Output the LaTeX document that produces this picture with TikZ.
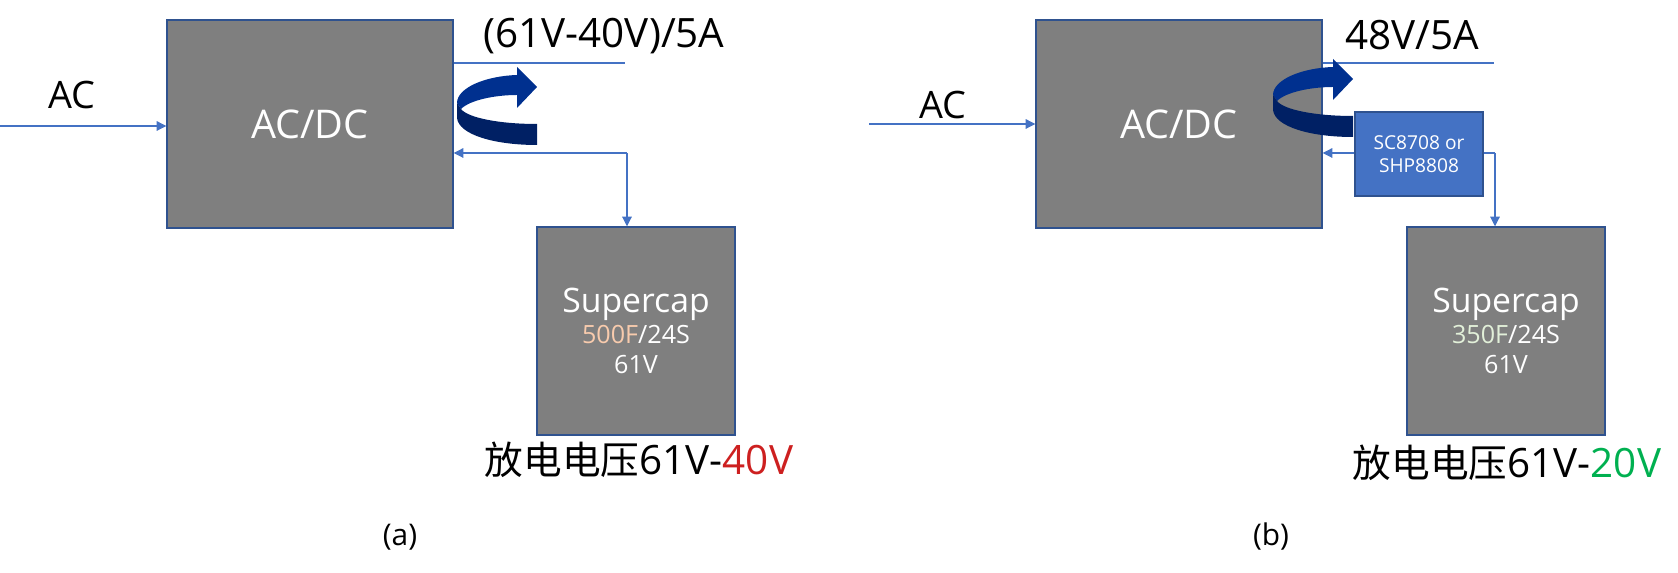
\documentclass[tikz,border=0pt]{standalone}
\usepackage{fontspec}
\setmainfont{Open Sans}
\newfontfamily\cjk{Noto Sans CJK SC}
\usetikzlibrary{arrows.meta}
\definecolor{boxgray}{RGB}{127,127,127}
\definecolor{edgeblue}{RGB}{47,82,143}
\definecolor{lineblue}{RGB}{68,114,196}
\definecolor{turnlight}{RGB}{0,48,143}
\definecolor{turndark}{RGB}{0,32,100}
\definecolor{peach}{RGB}{248,203,173}
\definecolor{palegreen}{RGB}{226,240,217}
\definecolor{volred}{RGB}{205,32,32}
\definecolor{volgreen}{RGB}{0,176,80}

% the turning arrow beside the converter
\newcommand\uturn{%
  \fill[turnlight] (517,75) .. controls (485,76) and (457,88) .. (457,103) -- (461,109)
    .. controls (470,100) and (495,95) .. (517,95) -- (517,108) -- (537,87) -- (517,67) -- cycle;
  \fill[turndark] (457,103) -- (457,118) .. controls (459,135) and (495,145) .. (537,145)
    -- (537,124) .. controls (500,124) and (468,118) .. (461,109) -- cycle;
}
\newcommand\cjksize{\fontsize{22}{26}\selectfont}

\begin{document}
\begin{tikzpicture}[x=0.02cm,y=-0.02cm,
  blk/.style={draw=edgeblue,line width=0.85pt,fill=boxgray,text=white,inner sep=0pt},
  conv/.style={blk,minimum width=5.72cm,minimum height=4.16cm,font=\fontsize{22.5}{26}\selectfont},
  capbox/.style={blk,minimum width=3.96cm,minimum height=4.16cm,align=center,font=\fontsize{14.3}{17}\selectfont},
  ctrlbox/.style={blk,fill=lineblue,minimum width=2.56cm,minimum height=1.68cm,align=center,font=\fontsize{10.9}{13}\selectfont},
  conn/.style={draw=lineblue,line width=0.6pt},
  sigarrow/.style={-{Triangle[length=5.5pt,width=5.5pt]}},
  lbl/.style={font=\fontsize{23}{27}\selectfont,inner sep=0pt},
  capt/.style={font=\fontsize{17}{20}\selectfont,inner sep=0pt}]
  \useasboundingbox (0,0) rectangle (1678,573);

  % (a)
  \node[conv] (acdca) at (310,124) {AC/DC};
  \node[capbox] (capa) at (636,331) {{\fontsize{19.2}{21}\selectfont Supercap}\\[1pt]\textcolor{peach}{500F}/24S\\61V};
  \coordinate (ina) at (0,126);
  \coordinate (outa) at (625,63);
  \coordinate (fba) at (627,153);
  \draw[conn,sigarrow] (ina) -- (ina -| acdca.west);
  \draw[conn] (outa -| acdca.east) -- (outa);
  \draw[conn,sigarrow] (fba) -- (fba -| acdca.east);
  \draw[conn,sigarrow] (fba) -- (fba |- capa.north);
  \uturn
  \node[lbl,font=\fontsize{21.5}{25}\selectfont] (aca) at (72,95) {AC};
  \node[lbl] (ratea) at (604,36) {(61V-40V)/5A};
  \node[lbl] (dischga) at (639,460) {{\cjk\cjksize 放电电压}61V-\textcolor{volred}{40V}};
  \node[capt] (capta) at (400,537) {(a)};

  % (b)
  \node[conv] (acdcb) at (1179,124) {AC/DC};
  \node[capbox] (capb) at (1506,331) {{\fontsize{19.2}{21}\selectfont Supercap}\\[1pt]\textcolor{palegreen}{350F}/24S\\61V};
  \node[ctrlbox] (ctrl) at (1419,154) {SC8708 or\\SHP8808};
  \coordinate (inb) at (869,124);
  \coordinate (outb) at (1494,63);
  \coordinate (fbb) at (1495,153);
  \draw[conn,sigarrow] (inb) -- (inb -| acdcb.west);
  \draw[conn] (outb -| acdcb.east) -- (outb);
  \draw[conn,sigarrow] (ctrl.west |- fbb) -- (fbb -| acdcb.east);
  \draw[conn] (ctrl.east |- fbb) -- (fbb);
  \draw[conn,sigarrow] (fbb) -- (fbb |- capb.north);
  \begin{scope}[shift={(816,-8)}]
    \uturn
  \end{scope}
  \node[lbl,font=\fontsize{21.5}{25}\selectfont] (acb) at (943,105) {AC};
  \node[lbl] (rateb) at (1412,35) {48V/5A};
  \node[lbl] (dischgb) at (1507,463) {{\cjk\cjksize 放电电压}61V-\textcolor{volgreen}{20V}};
  \node[capt] (captb) at (1271,537) {(b)};
\end{tikzpicture}
\end{document}
